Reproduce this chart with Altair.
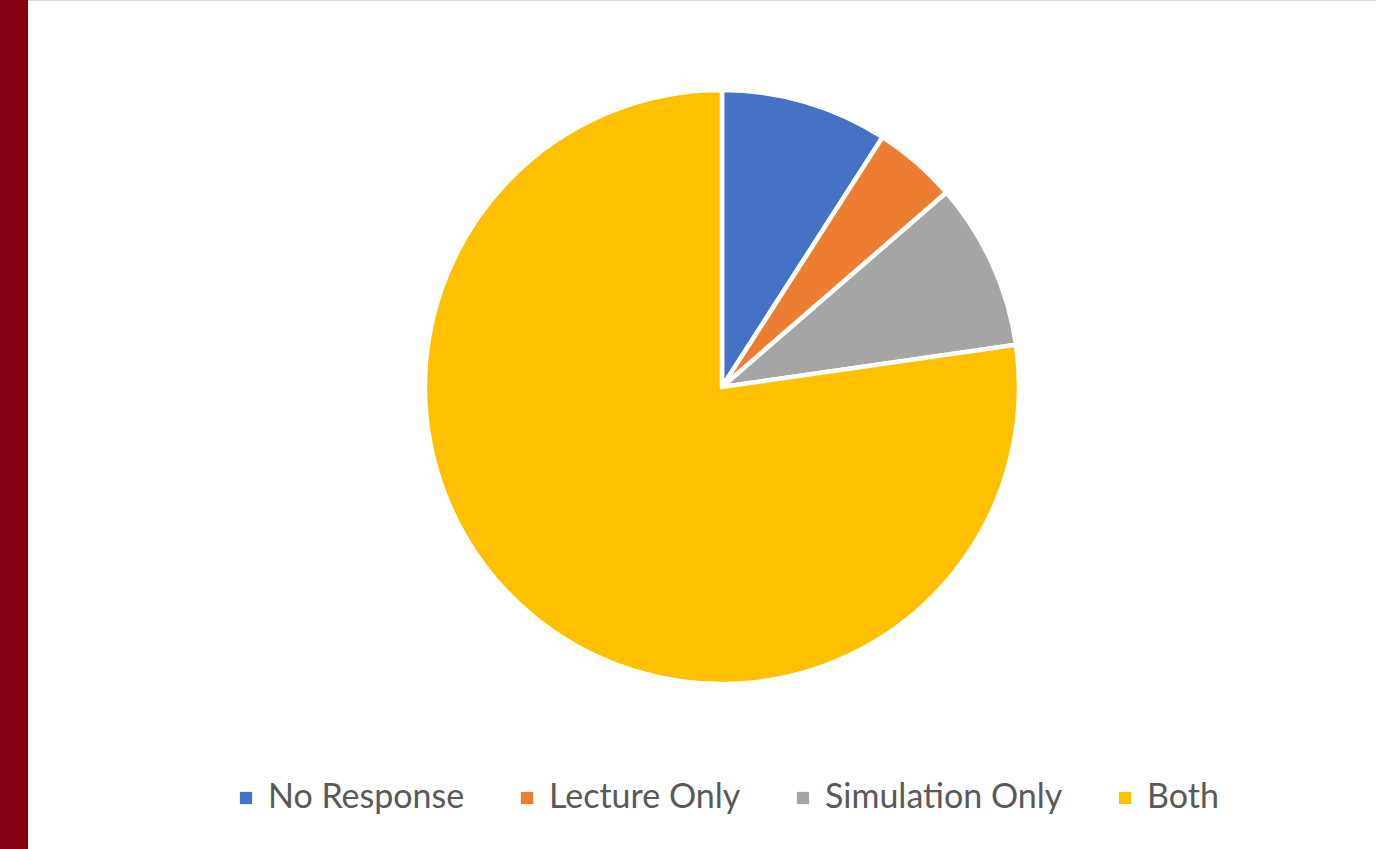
import altair as alt
import pandas as pd

categories = ["No Response", "Lecture Only", "Simulation Only", "Both"]
counts = [2, 1, 2, 17]
colors = ["#4472C4", "#ED7D31", "#A5A5A5", "#FFC000"]

df = pd.DataFrame({"category": categories, "count": counts, "order": list(range(len(categories)))})

pie = alt.Chart(df).mark_arc(radius=297, stroke="white", strokeWidth=4.5).encode(
    theta=alt.Theta("count:Q", stack=True),
    order=alt.Order("order:Q"),
    color=alt.Color(
        "category:N",
        sort=categories,
        scale=alt.Scale(domain=categories, range=colors),
        legend=alt.Legend(
            title=None,
            orient="none",
            direction="horizontal",
            legendX=229,
            legendY=781,
            symbolType="square",
            symbolSize=150,
            symbolStrokeWidth=0,
            labelFont="Lato",
            labelFontSize=34,
            labelColor="#595959",
            labelLimit=0,
            columnPadding=45,
            symbolOffset=0,
            labelOffset=5,
        ),
    ),
    x=alt.value(722),
    y=alt.value(387),
)

band_df = pd.DataFrame({"band": ["left"]})
band = alt.Chart(band_df).mark_rect(color="#840012").encode(
    x=alt.value(0), x2=alt.value(28), y=alt.value(0), y2=alt.value(849)
)

chart = alt.layer(band, pie).properties(
    width=1376, height=849,
    autosize=alt.AutoSizeParams(type="none"),
    padding=0,
).configure_view(stroke=None).configure(background="white")

chart.save("out.html", embed_options={"renderer": "svg", "actions": False})
